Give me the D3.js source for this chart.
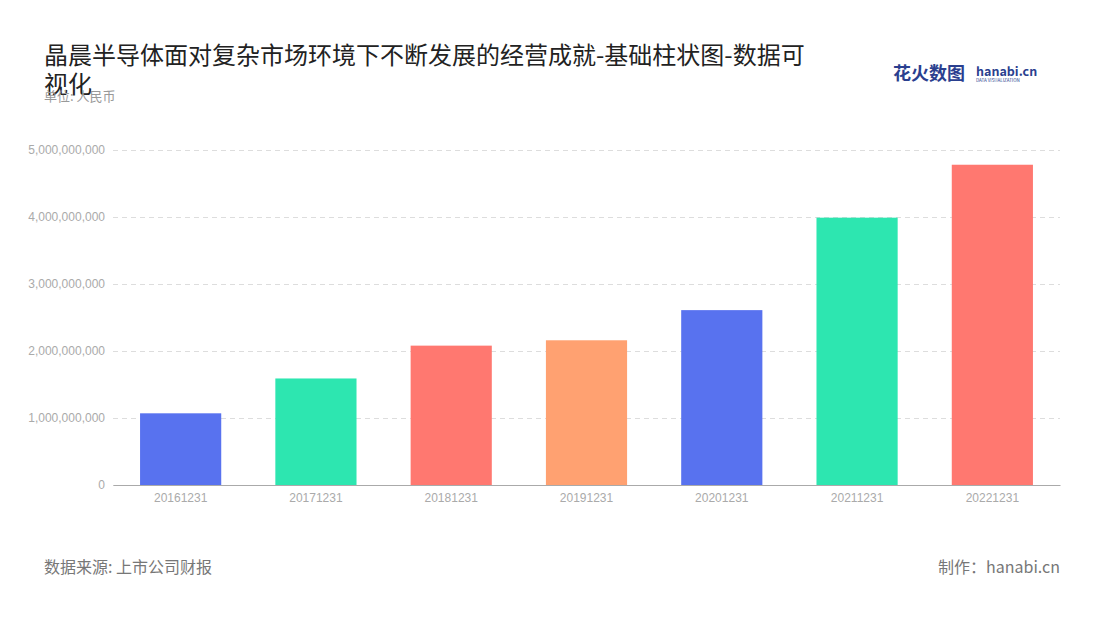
<!DOCTYPE html>
<html><head><meta charset="utf-8">
<script src="https://cdn.jsdelivr.net/npm/d3@7"></script>
<style>body{margin:0;background:#fff;font-family:"Noto Sans CJK SC","Noto Sans",sans-serif;}</style>
</head><body>
<svg id="c" width="1100" height="620"></svg>
<script>
const categories = ["20161231","20171231","20181231","20191231","20201231","20211231","20221231"];
const values = [1070000000,1590000000,2080000000,2160000000,2610000000,3990000000,4780000000];
const colors = ["#5872ef","#2de6b0","#ff7870","#ffa171","#5872ef","#2de6b0","#ff7870"];
const yTicks = [0,1e9,2e9,3e9,4e9,5e9];

const svg = d3.select("#c");
const m = {l:113, r:1060, t:150, b:485};
const x = d3.scaleBand().domain(categories).range([m.l, m.r]).paddingInner(0.4).paddingOuter(0.2);
const y = d3.scaleLinear().domain([0,5e9]).range([m.b, m.t]);

svg.append("text").attr("x",44).attr("y",64).attr("font-size",24).attr("fill","#222").text("晶晨半导体面对复杂市场环境下不断发展的经营成就-基础柱状图-数据可");
svg.append("text").attr("x",44).attr("y",93).attr("font-size",24).attr("fill","#222").text("视化");
svg.append("text").attr("x",44).attr("y",101).attr("font-size",13).attr("fill","#999").text("单位: 人民币");

const lg = svg.append("g");
lg.append("text").attr("x",893).attr("y",80).attr("font-size",18).attr("font-weight","bold").attr("fill","#2a3f8f").text("花火数图");
lg.append("text").attr("x",976).attr("y",76).attr("font-size",12.5).attr("font-weight","bold").attr("fill","#2a3f8f").text("hanabi.cn");
lg.append("text").attr("x",976).attr("y",82).attr("font-size",4.5).attr("fill","#2a3f8f").text("DATA VISUALIZATION");

const ya = svg.append("g").attr("transform",`translate(${m.l},0)`)
  .call(d3.axisLeft(y).tickValues(yTicks).tickSize(-(m.r-m.l)).tickFormat(d3.format(",")));
ya.select(".domain").remove();
ya.selectAll(".tick line").attr("stroke","#ddd").attr("stroke-dasharray","5,4");
ya.selectAll(".tick text").attr("fill","#aaa").attr("font-size",12).attr("x",-8);

svg.append("g").selectAll("rect").data(values).join("rect")
  .attr("x",(d,i)=>x(categories[i])).attr("width",x.bandwidth())
  .attr("y",d=>y(d)).attr("height",d=>y(0)-y(d)).attr("fill",(d,i)=>colors[i]);

const xa = svg.append("g").attr("transform",`translate(0,${m.b})`).call(d3.axisBottom(x).tickSize(0));
xa.select(".domain").attr("stroke","#aaa");
xa.selectAll(".tick text").attr("fill","#aaa").attr("font-size",12).attr("dy","1.2em");

svg.append("text").attr("x",44).attr("y",573).attr("font-size",16).attr("fill","#777").text("数据来源: 上市公司财报");
svg.append("text").attr("x",1060).attr("y",573).attr("text-anchor","end").attr("font-size",16).attr("fill","#777").text("制作：hanabi.cn");
</script>
</body></html>
